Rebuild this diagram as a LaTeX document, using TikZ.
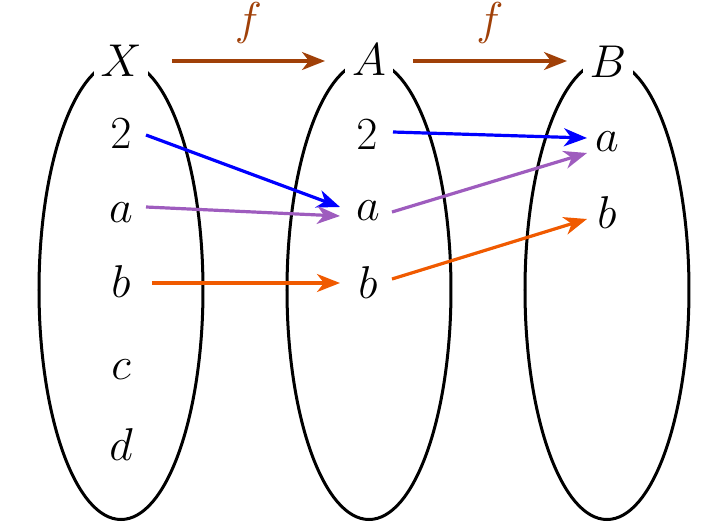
\documentclass[tikz,border=0pt]{standalone}
\usepackage{fix-cm}
\usetikzlibrary{shapes.geometric,arrows.meta,calc}
\definecolor{fbrown}{RGB}{160,64,8}
\definecolor{fblue}{RGB}{0,0,255}
\definecolor{fpurple}{RGB}{158,92,190}
\definecolor{forange}{RGB}{240,90,0}
\tikzset{
  lbl/.style={inner sep=0pt, font=\fontsize{23}{27}\selectfont},
  setlbl/.style={lbl, fill=white, inner sep=3.5pt},
  setbox/.style={draw, ellipse, line width=1.5pt, minimum width=82pt, minimum height=229.5pt, inner sep=0pt},
  maparrow/.style={line width=1.6pt, -{Stealth[length=11.5pt,width=9pt,inset=3.5pt]}},
  flabel/.style={lbl, text=fbrown, midway, above=8pt}
}
\begin{document}
\begin{tikzpicture}[x=0.5pt,y=-0.5pt]
\useasboundingbox (0,0) rectangle (720,531);
% sets
\node[setbox] (EX) at (121,290) {};
\node[setbox] (EA) at (369,290) {};
\node[setbox] (EB) at (607,290) {};
% set names
\node[setlbl] (X) at (121,61) {$X$};
\node[setlbl] (A) at (369,60) {$A$};
\node[setlbl] (B) at (608,62) {$B$};
% elements of X
\node[lbl] (L2) at (121,134) {$2$};
\node[lbl] (La) at (121,212.5) {$a$};
\node[lbl] (Lb) at (121,281.5) {$b$};
\node[lbl] (Lc) at (121,370) {$c$};
\node[lbl] (Ld) at (121,444.5) {$d$};
% elements of A
\node[lbl] (M2) at (367,135) {$2$};
\node[lbl] (Ma) at (368,211) {$a$};
\node[lbl] (Mb) at (368,282.5) {$b$};
% elements of B
\node[lbl] (Ra) at (607,142) {$a$};
\node[lbl] (Rb) at (607,212.5) {$b$};
% f arrows
\draw[maparrow, fbrown] ($(X)+(51,0)$) -- ($(A)+(-44,1)$) node[flabel] {$f$};
\draw[maparrow, fbrown] ($(A)+(44,1)$) -- ($(B)+(-41,-1)$) node[flabel] {$f$};
% first map
\draw[maparrow, fblue] ($(L2)+(25,1)$) -- ($(Ma)+(-28,-4)$);
\draw[maparrow, fpurple] ($(La)+(25,-5.5)$) -- ($(Ma)+(-28,5)$);
\draw[maparrow, forange] ($(Lb)+(31,1.5)$) -- ($(Mb)+(-28,0.5)$);
% second map
\draw[maparrow, fblue] ($(M2)+(26,-3)$) -- ($(Ra)+(-20,-4)$);
\draw[maparrow, fpurple] ($(Ma)+(24,1)$) -- ($(Ra)+(-20,11)$);
\draw[maparrow, forange] ($(Mb)+(24,-3.5)$) -- ($(Rb)+(-20,6.5)$);
\end{tikzpicture}
\end{document}
